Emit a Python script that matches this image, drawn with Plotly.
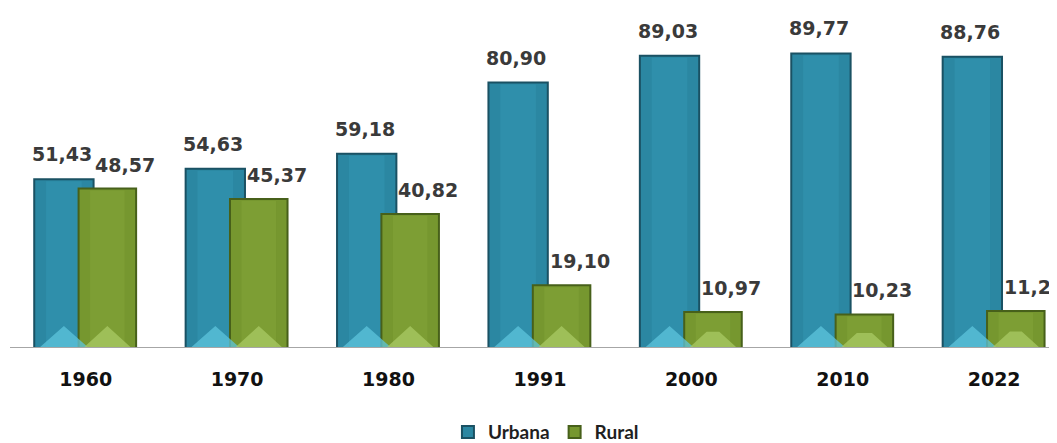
import plotly.graph_objects as go

years = ["1960", "1970", "1980", "1991", "2000", "2010", "2022"]
urbana = [51.43, 54.63, 59.18, 80.90, 89.03, 89.77, 88.76]
rural = [48.57, 45.37, 40.82, 19.10, 10.97, 10.23, 11.24]
labels_urbana = ["51,43", "54,63", "59,18", "80,90", "89,03", "89,77", "88,76"]
labels_rural = ["48,57", "45,37", "40,82", "19,10", "10,97", "10,23", "11,24"]

xs = list(range(len(years)))

U_BASE, U_W = -0.340, 0.392
R_BASE, R_W = -0.047, 0.380

U_MAIN, U_EDGE, U_LIGHT, U_BOT = "#2B87A2", "#1A5163", "#3398B4", "#5EC4DC"
R_MAIN, R_EDGE, R_LIGHT, R_BOT = "#76972F", "#47601A", "#84A53A", "#A9C964"

fig = go.Figure()


def add_series(name, vals, base, width, main, edge, light, bot):
    fig.add_trace(go.Bar(
        x=xs, y=vals, name=name, offset=base, width=width,
        marker=dict(color=main, line=dict(color=edge, width=2)),
        hoverinfo="skip", showlegend=True,
    ))
    fig.add_trace(go.Bar(
        x=xs, y=[v - 0.6 for v in vals], offset=base + width * 0.2, width=width * 0.6,
        marker=dict(color=light, opacity=0.5, line=dict(width=0)),
        hoverinfo="skip", showlegend=False,
    ))
    # bevel highlight at the foot of each bar
    px, py = [], []
    for i, v in zip(xs, vals):
        h_full = 6.7
        h = min(h_full, v * 0.45)
        half = width * 0.42
        d = half * h / h_full
        x0 = i + base + width * 0.08
        x1 = i + base + width * 0.92
        px += [x0, x0 + d, x1 - d, x1, x0, None]
        py += [0, h, h, 0, 0, None]
    fig.add_trace(go.Scatter(
        x=px, y=py, mode="lines", fill="toself", fillcolor=bot,
        line=dict(width=0), opacity=0.75, hoverinfo="skip", showlegend=False,
    ))


add_series("Urbana", urbana, U_BASE, U_W, U_MAIN, U_EDGE, U_LIGHT, U_BOT)
add_series("Rural", rural, R_BASE, R_W, R_MAIN, R_EDGE, R_LIGHT, R_BOT)

ann = []
for i in xs:
    ann.append(dict(x=i + U_BASE + U_W / 2, y=urbana[i], text=labels_urbana[i],
                    showarrow=False, yanchor="bottom", yshift=12, xshift=-2,
                    font=dict(family="DejaVu Sans", size=19, color="#3a3a3a", weight="bold")))
    ann.append(dict(x=i + R_BASE + R_W / 2, y=rural[i], text=labels_rural[i],
                    showarrow=False, yanchor="bottom", yshift=11, xshift=18,
                    font=dict(family="DejaVu Sans", size=19, color="#3a3a3a", weight="bold")))

fig.update_layout(
    width=1057, height=443,
    margin=dict(l=2, r=0, t=2, b=103, autoexpand=False),
    paper_bgcolor="white", plot_bgcolor="white",
    barmode="overlay",
    annotations=ann,
    showlegend=True,
    legend=dict(orientation="h", xanchor="center", x=0.508, yanchor="middle", y=-0.249,
                font=dict(family="Lato", size=19, color="#1f1f1f", weight="bold"),
                itemwidth=30, tracegroupgap=0, bgcolor="rgba(0,0,0,0)"),
    xaxis=dict(range=[-0.5, 6.468], tickvals=xs, ticktext=years,
               showgrid=False, zeroline=False, showline=False, ticks="",
               ticklabelstandoff=18,
               tickfont=dict(family="DejaVu Sans", size=19, color="#111111", weight="bold")),
    yaxis=dict(range=[0, 103], visible=False, showgrid=False, zeroline=False),
    shapes=[dict(type="line", xref="paper", yref="y", x0=0, x1=1, y0=0, y1=0,
                 line=dict(color="#A6A6A6", width=2), layer="above")],
)

fig.write_html("out.html")
